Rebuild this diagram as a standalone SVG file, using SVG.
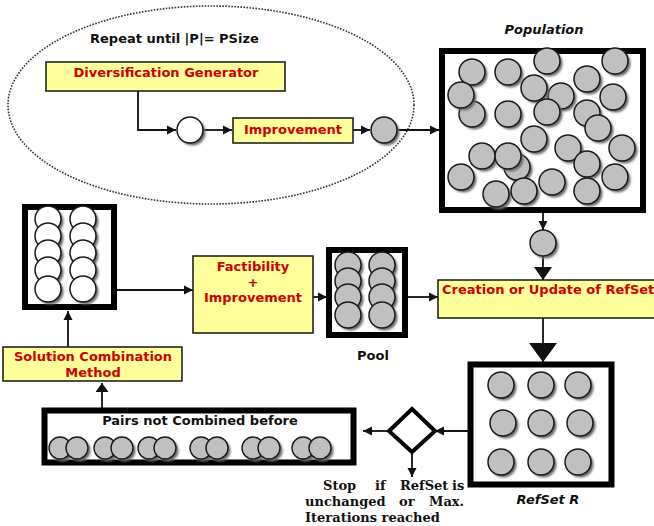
<svg xmlns="http://www.w3.org/2000/svg" xmlns:xlink="http://www.w3.org/1999/xlink" width="654" height="526" viewBox="0 0 654 526">
<style>
.t{font-family:"DejaVu Sans",Verdana,sans-serif;font-weight:bold;font-size:13px}
.r{fill:#cc0000}
.k{fill:#111}
.it{font-style:italic}
.s{font-family:"DejaVu Serif","Liberation Serif",serif;font-weight:bold;font-size:13px;fill:#111}
.yb{fill:#ffff9c;stroke:#222;stroke-width:1.6}
.tb{fill:#fff;stroke:#000;stroke-width:6}
.ln{stroke:#111;stroke-width:1.8;fill:none}
</style>
<defs>
<filter id="sh" x="-50%" y="-50%" width="200%" height="200%"><feGaussianBlur stdDeviation="1"/></filter>
<g id="gc"><circle cx="2.5" cy="2.5" r="13" fill="#6a6a6a" filter="url(#sh)"/><circle r="13" fill="#c0c0c0" stroke="#1a1a1a" stroke-width="1.5"/></g>
<g id="gs"><circle cx="2.5" cy="2.5" r="11" fill="#6a6a6a" filter="url(#sh)"/><circle r="11" fill="#c0c0c0" stroke="#1a1a1a" stroke-width="1.4"/></g>
<g id="wc"><circle cx="2.5" cy="2.5" r="13" fill="#6a6a6a" filter="url(#sh)"/><circle r="13" fill="#fff" stroke="#1a1a1a" stroke-width="1.5"/></g>
<marker id="a" markerUnits="userSpaceOnUse" markerWidth="10" markerHeight="10" refX="9" refY="5" orient="auto"><path d="M0,0.5 L9,5 L0,9.5 z" fill="#111"/></marker>
<marker id="ab" markerUnits="userSpaceOnUse" markerWidth="20" markerHeight="20" refX="13" refY="9" orient="auto"><path d="M0,0 L13,9 L0,18 z" fill="#111"/></marker>
<marker id="ah" markerUnits="userSpaceOnUse" markerWidth="22" markerHeight="30" refX="19" refY="14" orient="auto"><path d="M0,0 L19,14 L0,28 z" fill="#111"/></marker>
<marker id="au" markerUnits="userSpaceOnUse" markerWidth="14" markerHeight="14" refX="9" refY="6.5" orient="auto"><path d="M0,0 L9,6.5 L0,13 z" fill="#111"/></marker>
</defs>
<rect width="654" height="526" fill="#fff"/>

<g id="loop">
<ellipse cx="211" cy="105" rx="203" ry="99" fill="none" stroke="#333" stroke-width="1.6" stroke-dasharray="1.6 1.4"/>
<text class="t k" x="90" y="43" font-size="14">Repeat until |P|= PSize</text>
</g>

<g id="connectors">
<path class="ln" d="M138,91 V130 H176" marker-end="url(#a)"/>
<path class="ln" d="M204,130 H232" marker-end="url(#a)"/>
<path class="ln" d="M353,130 H370" marker-end="url(#a)"/>
<path class="ln" d="M397,130 H439" marker-end="url(#a)"/>
<path class="ln" d="M543,213 V230" stroke-width="2" marker-end="url(#a)"/>
<path class="ln" d="M543,256 V280" stroke-width="3" marker-end="url(#ab)"/>
<path class="ln" d="M543,318 V362" stroke-width="3.5" marker-end="url(#ah)"/>
<path class="ln" d="M468,431 H435" marker-end="url(#a)"/>
<path class="ln" d="M389,431 H363" marker-end="url(#a)"/>
<path class="ln" d="M412,452 V477" marker-end="url(#a)"/>
<path class="ln" d="M102,408 V383" stroke-width="3" marker-end="url(#au)"/>
<path class="ln" d="M68,347 V311" marker-end="url(#a)"/>
<path class="ln" d="M117,290 H193" marker-end="url(#a)"/>
<path class="ln" d="M313,297 H327" marker-end="url(#a)"/>
<path class="ln" d="M408,297 H438" marker-end="url(#a)"/>
</g>

<g id="div-gen">
<rect class="yb" x="46" y="62" width="239" height="29"/>
<text class="t r" x="166" y="77" text-anchor="middle">Diversification Generator</text>
</g>

<g id="white-node"><use xlink:href="#wc" x="190" y="130"/></g>

<g id="improvement">
<rect class="yb" x="233" y="118" width="120" height="25"/>
<text class="t r" x="293" y="134" text-anchor="middle">Improvement</text>
</g>

<g id="gray-node"><use xlink:href="#gc" x="384" y="130"/></g>

<g id="population">
<text class="t k it" x="544" y="34" text-anchor="middle" font-size="12.5">Population</text>
<rect class="tb" x="442" y="51" width="201" height="159"/>
<use xlink:href="#gc" x="472" y="72"/>
<use xlink:href="#gc" x="508" y="72"/>
<use xlink:href="#gc" x="547" y="61"/>
<use xlink:href="#gc" x="615" y="61"/>
<use xlink:href="#gc" x="587" y="79"/>
<use xlink:href="#gc" x="613" y="97"/>
<use xlink:href="#gc" x="561" y="96"/>
<use xlink:href="#gc" x="534" y="88"/>
<use xlink:href="#gc" x="472" y="114"/>
<use xlink:href="#gc" x="461" y="95"/>
<use xlink:href="#gc" x="508" y="114"/>
<use xlink:href="#gc" x="547" y="112"/>
<use xlink:href="#gc" x="587" y="113"/>
<use xlink:href="#gc" x="598" y="128"/>
<use xlink:href="#gc" x="534" y="139"/>
<use xlink:href="#gc" x="568" y="148"/>
<use xlink:href="#gc" x="587" y="164"/>
<use xlink:href="#gc" x="622" y="148"/>
<use xlink:href="#gc" x="517" y="167"/>
<use xlink:href="#gc" x="482" y="156"/>
<use xlink:href="#gc" x="508" y="156"/>
<use xlink:href="#gc" x="461" y="177"/>
<use xlink:href="#gc" x="496" y="194"/>
<use xlink:href="#gc" x="524" y="191"/>
<use xlink:href="#gc" x="552" y="182"/>
<use xlink:href="#gc" x="615" y="177"/>
<use xlink:href="#gc" x="587" y="191"/>
</g>

<g id="between-node"><use xlink:href="#gc" x="543" y="243"/></g>

<g id="refset-update">
<rect class="yb" x="438" y="280" width="220" height="38"/>
<text class="t r" x="442" y="294" font-size="13.5">Creation or Update of RefSet</text>
</g>

<g id="refset">
<rect class="tb" x="470.5" y="364.5" width="141" height="120" stroke-width="5"/>
<use xlink:href="#gc" x="501" y="385"/>
<use xlink:href="#gc" x="541" y="385"/>
<use xlink:href="#gc" x="578" y="385"/>
<use xlink:href="#gc" x="503" y="423"/>
<use xlink:href="#gc" x="541" y="423"/>
<use xlink:href="#gc" x="580" y="423"/>
<use xlink:href="#gc" x="501" y="462"/>
<use xlink:href="#gc" x="541" y="462"/>
<use xlink:href="#gc" x="578" y="462"/>
<text class="t k it" x="548" y="504" text-anchor="middle" font-size="12.5">RefSet R</text>
</g>

<g id="stop-check">
<path d="M412,409 L435,431 L412,452 L389,431 Z" fill="#fff" stroke="#000" stroke-width="4" stroke-linejoin="miter"/>
<text class="s" y="490"><tspan x="323">Stop</tspan><tspan x="375">if</tspan><tspan x="400">RefSet</tspan><tspan x="452">is</tspan></text>
<text class="s" y="506"><tspan x="305">unchanged</tspan><tspan x="399">or</tspan><tspan x="429">Max.</tspan></text>
<text class="s" x="305" y="522">Iterations reached</text>
</g>

<g id="pairs">
<rect class="tb" x="44.5" y="410.5" width="309" height="52" stroke-width="5"/>
<text class="t k" x="200" y="425" text-anchor="middle">Pairs not Combined before</text>
<use xlink:href="#gs" x="60" y="448"/>
<use xlink:href="#gs" x="77" y="448"/>
<use xlink:href="#gs" x="105" y="448"/>
<use xlink:href="#gs" x="122" y="448"/>
<use xlink:href="#gs" x="149" y="448"/>
<use xlink:href="#gs" x="165" y="448"/>
<use xlink:href="#gs" x="201" y="448"/>
<use xlink:href="#gs" x="217" y="448"/>
<use xlink:href="#gs" x="253" y="448"/>
<use xlink:href="#gs" x="269" y="448"/>
<use xlink:href="#gs" x="303" y="448"/>
<use xlink:href="#gs" x="320" y="448"/>
</g>

<g id="combination">
<rect class="yb" x="3" y="347" width="179" height="34"/>
<text class="t r" x="93" y="361" text-anchor="middle">Solution Combination</text>
<text class="t r" x="93" y="377" text-anchor="middle">Method</text>
</g>

<g id="new-solutions">
<rect class="tb" x="25" y="207" width="89" height="100"/>
<use xlink:href="#wc" x="48" y="219"/>
<use xlink:href="#wc" x="83" y="219"/>
<use xlink:href="#wc" x="48" y="236"/>
<use xlink:href="#wc" x="83" y="236"/>
<use xlink:href="#wc" x="48" y="253"/>
<use xlink:href="#wc" x="83" y="253"/>
<use xlink:href="#wc" x="48" y="270"/>
<use xlink:href="#wc" x="83" y="270"/>
<use xlink:href="#wc" x="48" y="289"/>
<use xlink:href="#wc" x="83" y="289"/>
</g>

<g id="factibility">
<rect class="yb" x="193" y="256" width="120" height="77"/>
<text class="t r" x="253" y="271" text-anchor="middle">Factibility</text>
<text class="t r" x="253" y="287" text-anchor="middle">+</text>
<text class="t r" x="253" y="302" text-anchor="middle">Improvement</text>
</g>

<g id="pool">
<rect class="tb" x="329" y="250" width="76" height="85"/>
<use xlink:href="#gc" x="348" y="265"/>
<use xlink:href="#gc" x="382" y="265"/>
<use xlink:href="#gc" x="348" y="281"/>
<use xlink:href="#gc" x="382" y="281"/>
<use xlink:href="#gc" x="348" y="297"/>
<use xlink:href="#gc" x="382" y="297"/>
<use xlink:href="#gc" x="348" y="315"/>
<use xlink:href="#gc" x="382" y="315"/>
<text class="t k" x="373" y="360" text-anchor="middle">Pool</text>
</g>
</svg>
